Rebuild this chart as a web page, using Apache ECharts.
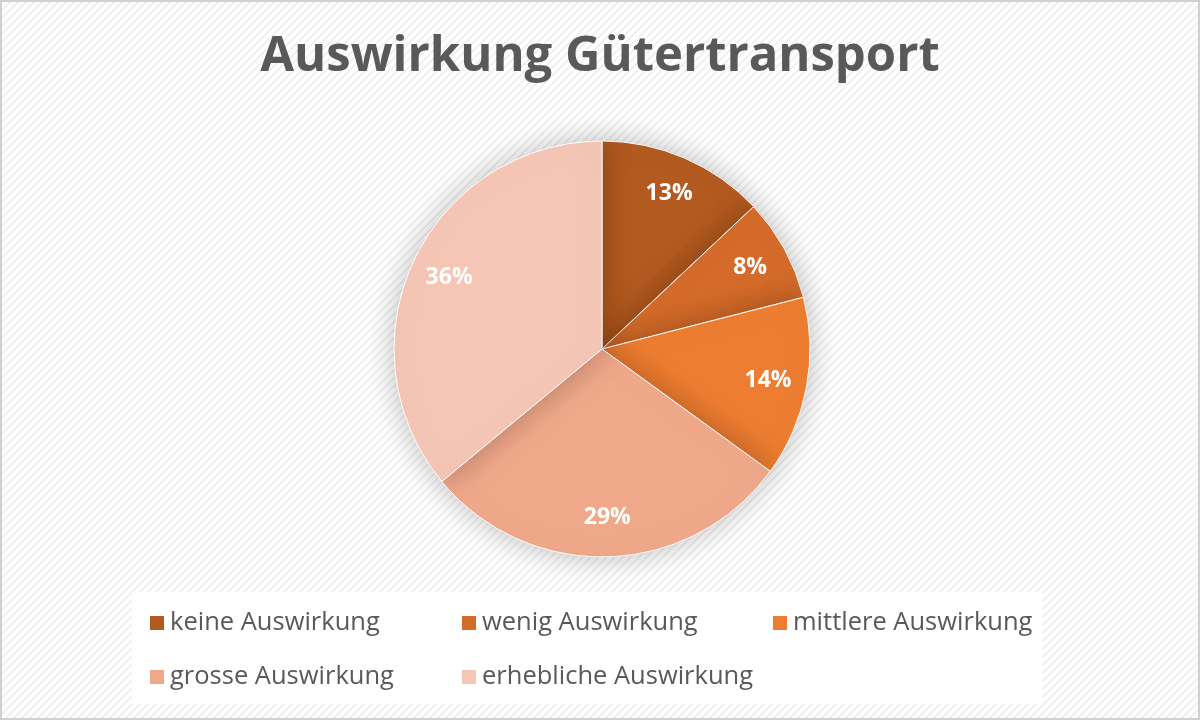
<!DOCTYPE html>
<html>
<head>
<meta charset="utf-8">
<script src="https://cdn.jsdelivr.net/npm/echarts@6/dist/echarts.min.js"></script>
<style>
html,body{margin:0;padding:0;}
#chart{width:1200px;height:720px;box-sizing:border-box;border:2px solid #d0d0d0;}
</style>
</head>
<body>
<div id="chart"></div>
<script>
var categories = ['keine Auswirkung', 'wenig Auswirkung', 'mittlere Auswirkung', 'grosse Auswirkung', 'erhebliche Auswirkung'];
var values = [13, 8, 14, 29, 36];
var colors = ['#B35A20', '#D46B2A', '#ED7D31', '#F0A88A', '#F5C6B5'];

// diagonal hatch background
var pat = document.createElement('canvas');
pat.width = 8; pat.height = 8;
var ctx = pat.getContext('2d');
ctx.fillStyle = '#ffffff';
ctx.fillRect(0, 0, 8, 8);
ctx.strokeStyle = '#ececec';
ctx.lineWidth = 1.5;
ctx.beginPath();
ctx.moveTo(0, 8); ctx.lineTo(8, 0);
ctx.moveTo(-2, 2); ctx.lineTo(2, -2);
ctx.moveTo(6, 10); ctx.lineTo(10, 6);
ctx.stroke();

var myChart = echarts.init(document.getElementById('chart'));

var legendBase = function(left, data){
	return {
		orient: 'vertical',
		left: left,
		top: 603,
		itemGap: 28,
		itemWidth: 16,
		itemHeight: 16,
		icon: 'rect',
		data: data,
		textStyle: {fontFamily: 'Open Sans', fontSize: 25.5, color: '#595959'}
	};
};

var data = categories.map(function(c, i){
	return {name: c, value: values[i], itemStyle: {color: colors[i]}};
});

var option = {
	backgroundColor: {image: pat, repeat: 'repeat'},
	title: {
		text: 'Auswirkung Gütertransport',
		left: 'center',
		top: 26,
		textStyle: {fontFamily: 'Open Sans', fontSize: 49, fontWeight: 'bold', color: '#595959'}
	},
	graphic: [{
		type: 'rect',
		shape: {x: 130, y: 590, width: 910, height: 112},
		style: {fill: '#ffffff'},
		z: -1
	}],
	legend: [
		legendBase(141, [categories[0], categories[3]]),
		legendBase(453, [categories[1], categories[4]]),
		legendBase(764, [categories[2]])
	],
	series: [{
		type: 'pie',
		center: [600, 347],
		radius: [0, 208],
		startAngle: 90,
		clockwise: true,
		data: data,
		itemStyle: {borderColor: '#ffffff', borderWidth: 1, shadowBlur: 30, shadowColor: 'rgba(0,0,0,0.25)'},
		label: {show: false},
		labelLine: {show: false}
	}, {
		// label-only ring so the labels sit at ~0.8 of the radius
		type: 'pie',
		center: [600, 347],
		radius: [124, 208],
		startAngle: 90,
		clockwise: true,
		silent: true,
		legendHoverLink: false,
		data: categories.map(function(c, i){
			return {name: c, value: values[i], itemStyle: {color: 'rgba(0,0,0,0)'}};
		}),
		label: {
			show: true,
			position: 'inside',
			formatter: '{c}%',
			fontFamily: 'Open Sans',
			fontSize: 23,
			fontWeight: 'bold',
			color: '#ffffff'
		},
		labelLine: {show: false}
	}]
};
myChart.setOption(option);
</script>
</body>
</html>
